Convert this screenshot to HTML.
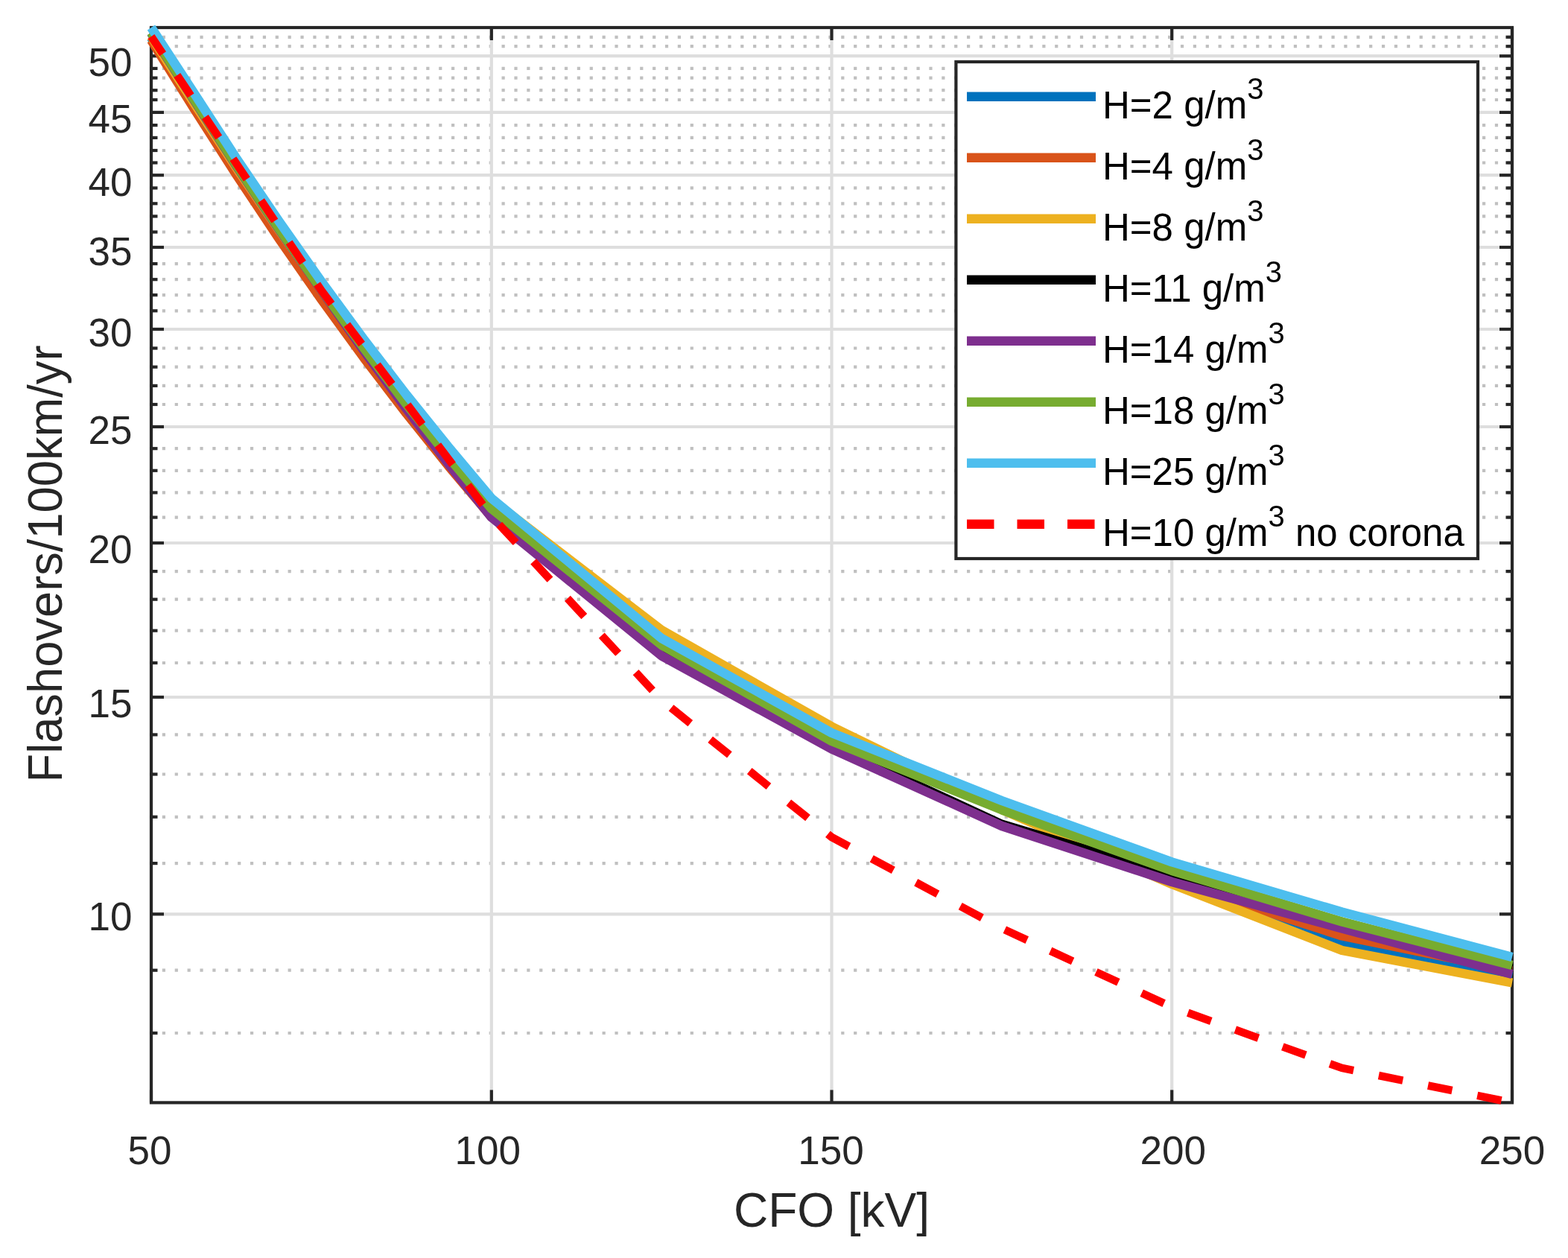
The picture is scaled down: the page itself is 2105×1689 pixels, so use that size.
<!DOCTYPE html>
<html><head><meta charset="utf-8"><title>Flashovers vs CFO</title>
<style>html,body{margin:0;padding:0;background:#fff;width:2105px;height:1689px;overflow:hidden}svg{display:block}</style>
</head><body><svg width="2105" height="1689" viewBox="0 0 2105 1689"><rect x="0" y="0" width="2105" height="1689" fill="#ffffff"/><g stroke="#c0c0c0" stroke-width="4.2" stroke-dasharray="4.22 12.658" fill="none"><line x1="200.92" y1="1387.0" x2="2030.0" y2="1387.0"/><line x1="200.92" y1="1302.7" x2="2030.0" y2="1302.7"/><line x1="200.92" y1="1159.1" x2="2030.0" y2="1159.1"/><line x1="200.92" y1="1096.8" x2="2030.0" y2="1096.8"/><line x1="200.92" y1="1039.5" x2="2030.0" y2="1039.5"/><line x1="200.92" y1="986.4" x2="2030.0" y2="986.4"/><line x1="200.92" y1="890.0" x2="2030.0" y2="890.0"/><line x1="200.92" y1="846.7" x2="2030.0" y2="846.7"/><line x1="200.92" y1="804.7" x2="2030.0" y2="804.7"/><line x1="200.92" y1="767.1" x2="2030.0" y2="767.1"/><line x1="200.92" y1="694.6" x2="2030.0" y2="694.6"/><line x1="200.92" y1="661.4" x2="2030.0" y2="661.4"/><line x1="200.92" y1="631.8" x2="2030.0" y2="631.8"/><line x1="200.92" y1="602.2" x2="2030.0" y2="602.2"/><line x1="200.92" y1="543.0" x2="2030.0" y2="543.0"/><line x1="200.92" y1="517.9" x2="2030.0" y2="517.9"/><line x1="200.92" y1="492.7" x2="2030.0" y2="492.7"/><line x1="200.92" y1="467.5" x2="2030.0" y2="467.5"/><line x1="200.92" y1="417.3" x2="2030.0" y2="417.3"/><line x1="200.92" y1="396.1" x2="2030.0" y2="396.1"/><line x1="200.92" y1="375.2" x2="2030.0" y2="375.2"/><line x1="200.92" y1="354.1" x2="2030.0" y2="354.1"/><line x1="200.92" y1="311.5" x2="2030.0" y2="311.5"/><line x1="200.92" y1="290.4" x2="2030.0" y2="290.4"/><line x1="200.92" y1="273.3" x2="2030.0" y2="273.3"/><line x1="200.92" y1="252.4" x2="2030.0" y2="252.4"/><line x1="200.92" y1="218.5" x2="2030.0" y2="218.5"/><line x1="200.92" y1="202.0" x2="2030.0" y2="202.0"/><line x1="200.92" y1="184.9" x2="2030.0" y2="184.9"/><line x1="200.92" y1="168.1" x2="2030.0" y2="168.1"/><line x1="200.92" y1="134.0" x2="2030.0" y2="134.0"/><line x1="200.92" y1="121.2" x2="2030.0" y2="121.2"/><line x1="200.92" y1="104.6" x2="2030.0" y2="104.6"/><line x1="200.92" y1="91.9" x2="2030.0" y2="91.9"/><line x1="200.92" y1="62.2" x2="2030.0" y2="62.2"/><line x1="200.92" y1="49.8" x2="2030.0" y2="49.8"/></g><g stroke="#dedede" stroke-width="4.2" fill="none"><line x1="203.0" y1="1227.3" x2="2030.0" y2="1227.3"/><line x1="203.0" y1="936.0" x2="2030.0" y2="936.0"/><line x1="203.0" y1="729.0" x2="2030.0" y2="729.0"/><line x1="203.0" y1="573.0" x2="2030.0" y2="573.0"/><line x1="203.0" y1="442.0" x2="2030.0" y2="442.0"/><line x1="203.0" y1="332.0" x2="2030.0" y2="332.0"/><line x1="203.0" y1="235.2" x2="2030.0" y2="235.2"/><line x1="203.0" y1="150.9" x2="2030.0" y2="150.9"/><line x1="203.0" y1="75.2" x2="2030.0" y2="75.2"/><line x1="659.8" y1="37.0" x2="659.8" y2="1480.4"/><line x1="1116.5" y1="37.0" x2="1116.5" y2="1480.4"/><line x1="1573.2" y1="37.0" x2="1573.2" y2="1480.4"/></g><g stroke="#262626" stroke-width="4.2" fill="none"><line x1="203.0" y1="1227.3" x2="220.0" y2="1227.3"/><line x1="2030.0" y1="1227.3" x2="2013.0" y2="1227.3"/><line x1="203.0" y1="936.0" x2="220.0" y2="936.0"/><line x1="2030.0" y1="936.0" x2="2013.0" y2="936.0"/><line x1="203.0" y1="729.0" x2="220.0" y2="729.0"/><line x1="2030.0" y1="729.0" x2="2013.0" y2="729.0"/><line x1="203.0" y1="573.0" x2="220.0" y2="573.0"/><line x1="2030.0" y1="573.0" x2="2013.0" y2="573.0"/><line x1="203.0" y1="442.0" x2="220.0" y2="442.0"/><line x1="2030.0" y1="442.0" x2="2013.0" y2="442.0"/><line x1="203.0" y1="332.0" x2="220.0" y2="332.0"/><line x1="2030.0" y1="332.0" x2="2013.0" y2="332.0"/><line x1="203.0" y1="235.2" x2="220.0" y2="235.2"/><line x1="2030.0" y1="235.2" x2="2013.0" y2="235.2"/><line x1="203.0" y1="150.9" x2="220.0" y2="150.9"/><line x1="2030.0" y1="150.9" x2="2013.0" y2="150.9"/><line x1="203.0" y1="75.2" x2="220.0" y2="75.2"/><line x1="2030.0" y1="75.2" x2="2013.0" y2="75.2"/><line x1="203.0" y1="1387.0" x2="211.5" y2="1387.0"/><line x1="2030.0" y1="1387.0" x2="2021.5" y2="1387.0"/><line x1="203.0" y1="1302.7" x2="211.5" y2="1302.7"/><line x1="2030.0" y1="1302.7" x2="2021.5" y2="1302.7"/><line x1="203.0" y1="1159.1" x2="211.5" y2="1159.1"/><line x1="2030.0" y1="1159.1" x2="2021.5" y2="1159.1"/><line x1="203.0" y1="1096.8" x2="211.5" y2="1096.8"/><line x1="2030.0" y1="1096.8" x2="2021.5" y2="1096.8"/><line x1="203.0" y1="1039.5" x2="211.5" y2="1039.5"/><line x1="2030.0" y1="1039.5" x2="2021.5" y2="1039.5"/><line x1="203.0" y1="986.4" x2="211.5" y2="986.4"/><line x1="2030.0" y1="986.4" x2="2021.5" y2="986.4"/><line x1="203.0" y1="890.0" x2="211.5" y2="890.0"/><line x1="2030.0" y1="890.0" x2="2021.5" y2="890.0"/><line x1="203.0" y1="846.7" x2="211.5" y2="846.7"/><line x1="2030.0" y1="846.7" x2="2021.5" y2="846.7"/><line x1="203.0" y1="804.7" x2="211.5" y2="804.7"/><line x1="2030.0" y1="804.7" x2="2021.5" y2="804.7"/><line x1="203.0" y1="767.1" x2="211.5" y2="767.1"/><line x1="2030.0" y1="767.1" x2="2021.5" y2="767.1"/><line x1="203.0" y1="694.6" x2="211.5" y2="694.6"/><line x1="2030.0" y1="694.6" x2="2021.5" y2="694.6"/><line x1="203.0" y1="661.4" x2="211.5" y2="661.4"/><line x1="2030.0" y1="661.4" x2="2021.5" y2="661.4"/><line x1="203.0" y1="631.8" x2="211.5" y2="631.8"/><line x1="2030.0" y1="631.8" x2="2021.5" y2="631.8"/><line x1="203.0" y1="602.2" x2="211.5" y2="602.2"/><line x1="2030.0" y1="602.2" x2="2021.5" y2="602.2"/><line x1="203.0" y1="543.0" x2="211.5" y2="543.0"/><line x1="2030.0" y1="543.0" x2="2021.5" y2="543.0"/><line x1="203.0" y1="517.9" x2="211.5" y2="517.9"/><line x1="2030.0" y1="517.9" x2="2021.5" y2="517.9"/><line x1="203.0" y1="492.7" x2="211.5" y2="492.7"/><line x1="2030.0" y1="492.7" x2="2021.5" y2="492.7"/><line x1="203.0" y1="467.5" x2="211.5" y2="467.5"/><line x1="2030.0" y1="467.5" x2="2021.5" y2="467.5"/><line x1="203.0" y1="417.3" x2="211.5" y2="417.3"/><line x1="2030.0" y1="417.3" x2="2021.5" y2="417.3"/><line x1="203.0" y1="396.1" x2="211.5" y2="396.1"/><line x1="2030.0" y1="396.1" x2="2021.5" y2="396.1"/><line x1="203.0" y1="375.2" x2="211.5" y2="375.2"/><line x1="2030.0" y1="375.2" x2="2021.5" y2="375.2"/><line x1="203.0" y1="354.1" x2="211.5" y2="354.1"/><line x1="2030.0" y1="354.1" x2="2021.5" y2="354.1"/><line x1="203.0" y1="311.5" x2="211.5" y2="311.5"/><line x1="2030.0" y1="311.5" x2="2021.5" y2="311.5"/><line x1="203.0" y1="290.4" x2="211.5" y2="290.4"/><line x1="2030.0" y1="290.4" x2="2021.5" y2="290.4"/><line x1="203.0" y1="273.3" x2="211.5" y2="273.3"/><line x1="2030.0" y1="273.3" x2="2021.5" y2="273.3"/><line x1="203.0" y1="252.4" x2="211.5" y2="252.4"/><line x1="2030.0" y1="252.4" x2="2021.5" y2="252.4"/><line x1="203.0" y1="218.5" x2="211.5" y2="218.5"/><line x1="2030.0" y1="218.5" x2="2021.5" y2="218.5"/><line x1="203.0" y1="202.0" x2="211.5" y2="202.0"/><line x1="2030.0" y1="202.0" x2="2021.5" y2="202.0"/><line x1="203.0" y1="184.9" x2="211.5" y2="184.9"/><line x1="2030.0" y1="184.9" x2="2021.5" y2="184.9"/><line x1="203.0" y1="168.1" x2="211.5" y2="168.1"/><line x1="2030.0" y1="168.1" x2="2021.5" y2="168.1"/><line x1="203.0" y1="134.0" x2="211.5" y2="134.0"/><line x1="2030.0" y1="134.0" x2="2021.5" y2="134.0"/><line x1="203.0" y1="121.2" x2="211.5" y2="121.2"/><line x1="2030.0" y1="121.2" x2="2021.5" y2="121.2"/><line x1="203.0" y1="104.6" x2="211.5" y2="104.6"/><line x1="2030.0" y1="104.6" x2="2021.5" y2="104.6"/><line x1="203.0" y1="91.9" x2="211.5" y2="91.9"/><line x1="2030.0" y1="91.9" x2="2021.5" y2="91.9"/><line x1="203.0" y1="62.2" x2="211.5" y2="62.2"/><line x1="2030.0" y1="62.2" x2="2021.5" y2="62.2"/><line x1="203.0" y1="49.8" x2="211.5" y2="49.8"/><line x1="2030.0" y1="49.8" x2="2021.5" y2="49.8"/><line x1="203.0" y1="1480.4" x2="203.0" y2="1463.4"/><line x1="203.0" y1="37.0" x2="203.0" y2="54.0"/><line x1="659.8" y1="1480.4" x2="659.8" y2="1463.4"/><line x1="659.8" y1="37.0" x2="659.8" y2="54.0"/><line x1="1116.5" y1="1480.4" x2="1116.5" y2="1463.4"/><line x1="1116.5" y1="37.0" x2="1116.5" y2="54.0"/><line x1="1573.2" y1="1480.4" x2="1573.2" y2="1463.4"/><line x1="1573.2" y1="37.0" x2="1573.2" y2="54.0"/><line x1="2030.0" y1="1480.4" x2="2030.0" y2="1463.4"/><line x1="2030.0" y1="37.0" x2="2030.0" y2="54.0"/></g><rect x="203.0" y="37.0" width="1827.0" height="1443.4" fill="none" stroke="#262626" stroke-width="4.2"/><path d="M203.0,50.6 L260.1,140.0 L317.2,227.8 L374.3,311.9 L431.4,392.4 L488.5,471.5 L545.6,547.1 L602.7,619.3 L659.8,688.0 L888.1,861.0 L1116.5,988.0 L1344.9,1085.0 L1573.2,1181.0 L1801.6,1265.0 L2030.0,1311.0" stroke="#0072BD" stroke-width="12.4" fill="none" stroke-linejoin="round"/><path d="M203.0,54.0 L260.1,145.2 L317.2,234.4 L374.3,320.0 L431.4,402.0 L488.5,480.4 L545.6,555.2 L602.7,626.4 L659.8,694.0 L888.1,860.0 L1116.5,988.0 L1344.9,1086.0 L1573.2,1183.0 L1801.6,1256.5 L2030.0,1303.0" stroke="#D95319" stroke-width="12.4" fill="none" stroke-linejoin="round"/><path d="M203.0,48.9 L260.1,137.7 L317.2,225.0 L374.3,308.7 L431.4,388.7 L488.5,464.5 L545.6,536.7 L602.7,605.3 L659.8,671.0 L888.1,846.0 L1116.5,975.5 L1344.9,1087.0 L1573.2,1187.0 L1801.6,1276.0 L2030.0,1319.5" stroke="#EDB120" stroke-width="12.4" fill="none" stroke-linejoin="round"/><path d="M203.0,43.8 L260.1,133.0 L317.2,221.7 L374.3,306.9 L431.4,388.7 L488.5,469.2 L545.6,546.3 L602.7,619.8 L659.8,690.0 L888.1,873.0 L1116.5,1001.0 L1344.9,1106.8 L1573.2,1175.0 L1801.6,1242.0 L2030.0,1300.0" stroke="#000000" stroke-width="12.4" fill="none" stroke-linejoin="round"/><path d="M203.0,44.6 L260.1,133.9 L317.2,222.6 L374.3,307.8 L431.4,389.5 L488.5,470.9 L545.6,548.9 L602.7,623.5 L659.8,694.5 L888.1,880.5 L1116.5,1005.5 L1344.9,1109.0 L1573.2,1184.0 L1801.6,1246.5 L2030.0,1308.0" stroke="#7E2F8E" stroke-width="12.4" fill="none" stroke-linejoin="round"/><path d="M203.0,43.8 L260.1,133.0 L317.2,221.7 L374.3,306.9 L431.4,388.7 L488.5,467.4 L545.6,542.7 L602.7,614.5 L659.8,683.0 L888.1,866.0 L1116.5,995.0 L1344.9,1087.3 L1573.2,1169.0 L1801.6,1237.5 L2030.0,1296.0" stroke="#77AC30" stroke-width="12.4" fill="none" stroke-linejoin="round"/><path d="M203.0,37.0 L260.1,124.4 L317.2,212.3 L374.3,296.8 L431.4,377.9 L488.5,455.6 L545.6,530.0 L602.7,600.9 L659.8,669.0 L888.1,857.0 L1116.5,984.0 L1344.9,1075.0 L1573.2,1157.4 L1801.6,1224.5 L2030.0,1285.0" stroke="#4DBEEE" stroke-width="12.4" fill="none" stroke-linejoin="round"/><path d="M203.0,49.0 L431.4,390.0 L659.8,693.0 L888.1,940.0 L1116.5,1124.0 L1344.9,1246.5 L1573.2,1352.0 L1801.6,1434.0 L2030.0,1480.4" stroke="#FF0000" stroke-width="10.6" fill="none" stroke-dasharray="33 34.52" stroke-dashoffset="5.0"/><g font-family="'Liberation Sans', Arial, Helvetica, sans-serif" font-size="53" fill="#262626"><text x="177.5" y="102.3" text-anchor="end">50</text><text x="177.5" y="178.2" text-anchor="end">45</text><text x="177.5" y="262.5" text-anchor="end">40</text><text x="177.5" y="355.6" text-anchor="end">35</text><text x="177.5" y="464.9" text-anchor="end">30</text><text x="177.5" y="596.0" text-anchor="end">25</text><text x="177.5" y="756.0" text-anchor="end">20</text><text x="177.5" y="963.2" text-anchor="end">15</text><text x="177.5" y="1249.0" text-anchor="end">10</text><text x="201.0" y="1562.5" text-anchor="middle">50</text><text x="654.8" y="1562.5" text-anchor="middle">100</text><text x="1115.5" y="1562.5" text-anchor="middle">150</text><text x="1574.8" y="1562.5" text-anchor="middle">200</text><text x="2030.0" y="1562.5" text-anchor="middle">250</text></g><text x="1116.5" y="1646.7" text-anchor="middle" font-family="'Liberation Sans', Arial, Helvetica, sans-serif" font-size="64" fill="#262626">CFO [kV]</text><text transform="translate(83.2,757) rotate(-90)" text-anchor="middle" font-family="'Liberation Sans', Arial, Helvetica, sans-serif" font-size="65.5" textLength="587" lengthAdjust="spacingAndGlyphs" fill="#262626">Flashovers/100km/yr</text><rect x="1283.4" y="83.0" width="700.6" height="667.0" fill="#ffffff" stroke="#262626" stroke-width="4.2"/><line x1="1298" y1="129.7" x2="1471" y2="129.7" stroke="#0072BD" stroke-width="12.4"/><text x="1480" y="158.9" font-family="'Liberation Sans', Arial, Helvetica, sans-serif" font-size="51" fill="#000000">H=2 g/m<tspan font-size="40" dy="-25.6">3</tspan><tspan dy="25.6" font-size="51"></tspan></text><line x1="1298" y1="211.7" x2="1471" y2="211.7" stroke="#D95319" stroke-width="12.4"/><text x="1480" y="240.9" font-family="'Liberation Sans', Arial, Helvetica, sans-serif" font-size="51" fill="#000000">H=4 g/m<tspan font-size="40" dy="-25.6">3</tspan><tspan dy="25.6" font-size="51"></tspan></text><line x1="1298" y1="293.7" x2="1471" y2="293.7" stroke="#EDB120" stroke-width="12.4"/><text x="1480" y="322.9" font-family="'Liberation Sans', Arial, Helvetica, sans-serif" font-size="51" fill="#000000">H=8 g/m<tspan font-size="40" dy="-25.6">3</tspan><tspan dy="25.6" font-size="51"></tspan></text><line x1="1298" y1="375.7" x2="1471" y2="375.7" stroke="#000000" stroke-width="12.4"/><text x="1480" y="404.9" font-family="'Liberation Sans', Arial, Helvetica, sans-serif" font-size="51" fill="#000000">H=11 g/m<tspan font-size="40" dy="-25.6">3</tspan><tspan dy="25.6" font-size="51"></tspan></text><line x1="1298" y1="457.7" x2="1471" y2="457.7" stroke="#7E2F8E" stroke-width="12.4"/><text x="1480" y="486.9" font-family="'Liberation Sans', Arial, Helvetica, sans-serif" font-size="51" fill="#000000">H=14 g/m<tspan font-size="40" dy="-25.6">3</tspan><tspan dy="25.6" font-size="51"></tspan></text><line x1="1298" y1="539.7" x2="1471" y2="539.7" stroke="#77AC30" stroke-width="12.4"/><text x="1480" y="568.9" font-family="'Liberation Sans', Arial, Helvetica, sans-serif" font-size="51" fill="#000000">H=18 g/m<tspan font-size="40" dy="-25.6">3</tspan><tspan dy="25.6" font-size="51"></tspan></text><line x1="1298" y1="621.7" x2="1471" y2="621.7" stroke="#4DBEEE" stroke-width="12.4"/><text x="1480" y="650.9" font-family="'Liberation Sans', Arial, Helvetica, sans-serif" font-size="51" fill="#000000">H=25 g/m<tspan font-size="40" dy="-25.6">3</tspan><tspan dy="25.6" font-size="51"></tspan></text><line x1="1298" y1="703.7" x2="1471" y2="703.7" stroke="#FF0000" stroke-width="12.4" stroke-dasharray="36.5 31"/><text x="1480" y="732.9" font-family="'Liberation Sans', Arial, Helvetica, sans-serif" font-size="51" fill="#000000">H=10 g/m<tspan font-size="40" dy="-25.6">3</tspan><tspan dy="25.6" font-size="51"> no corona</tspan></text></svg></body></html>
